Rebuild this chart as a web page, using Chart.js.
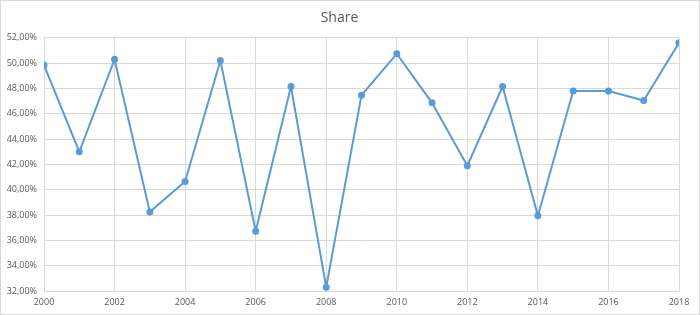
<!DOCTYPE html>
<html>
<head>
<meta charset="utf-8">
<script src="https://cdn.jsdelivr.net/npm/chart.js@4/dist/chart.umd.min.js"></script>
<style>
html,body{margin:0;padding:0;background:#fff;}
#wrap{width:700px;height:315px;position:relative;}
</style>
</head>
<body>
<div id="wrap"><canvas id="c" width="700" height="315"></canvas></div>
<script>
const years = [2000,2001,2002,2003,2004,2005,2006,2007,2008,2009,2010,2011,2012,2013,2014,2015,2016,2017,2018];
const share = [49.85,43.0,50.3,38.25,40.65,50.2,36.72,48.15,32.3,47.47,50.74,46.86,41.9,48.15,37.95,47.8,47.8,47.05,51.6];
const yTicks = [32,34,36,38,40,42,44,46,48,50,52];
const xTicks = [2000,2002,2004,2006,2008,2010,2012,2014,2016,2018];

const points = years.map((y,i)=>({x:y,y:share[i]}));
const fmt = v => v.toFixed(2).replace('.',',') + '%';

const borderPlugin = {
  id:'outerBorder',
  afterDraw(chart){
    const ctx = chart.ctx;
    ctx.save();
    ctx.strokeStyle = '#d9d9d9';
    ctx.lineWidth = 1;
    ctx.strokeRect(0.5,0.5,chart.width-1,chart.height-1);
    ctx.restore();
  }
};

new Chart(document.getElementById('c'), {
  type:'line',
  data:{datasets:[{
    label:'Share',
    data:points,
    borderColor:'#5b9bd5',
    backgroundColor:'#5b9bd5',
    borderWidth:2,
    pointRadius:2.5,
    pointHoverRadius:2.5,
    tension:0,
    fill:false
  }]},
  options:{
    responsive:false,
    animation:false,
    layout:{padding:{left:0,right:21,top:0,bottom:0}},
    plugins:{
      legend:{display:false},
      tooltip:{enabled:false},
      title:{display:true,text:'Share',color:'#595959',
        font:{family:'"Open Sans", "Liberation Sans", sans-serif',size:14,weight:'normal'},
        padding:{top:10,bottom:11}}
    },
    scales:{
      x:{
        type:'linear',min:2000,max:2018,
        afterBuildTicks(s){ s.ticks = xTicks.map(v=>({value:v})); },
        afterFit(s){ s.height = 24; },
        grid:{color:'#d9d9d9',drawTicks:false},
        border:{color:'#d9d9d9'},
        ticks:{color:'#595959',padding:6,font:{family:'"Open Sans", "Liberation Sans", sans-serif',size:9},
          callback:v=>String(v),maxRotation:0,autoSkip:false}
      },
      y:{
        min:32,max:52,
        afterBuildTicks(s){ s.ticks = yTicks.map(v=>({value:v})); },
        afterFit(s){ s.width = 44; },
        grid:{color:'#d9d9d9',drawTicks:false},
        border:{display:false},
        ticks:{color:'#595959',padding:7,font:{family:'"Open Sans", "Liberation Sans", sans-serif',size:9},
          callback:v=>fmt(v)}
      }
    }
  },
  plugins:[borderPlugin]
});
</script>
</body>
</html>
